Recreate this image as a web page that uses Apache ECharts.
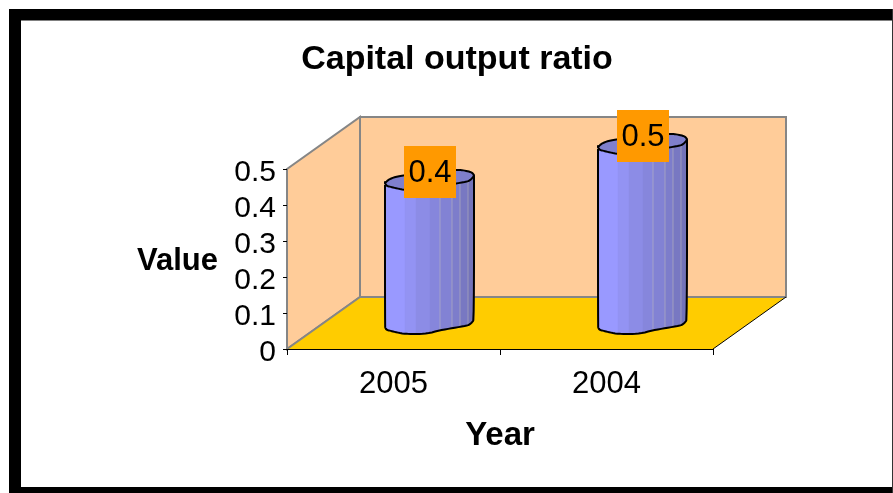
<!DOCTYPE html>
<html>
<head>
<meta charset="utf-8">
<style>html,body{margin:0;padding:0;background:#fff}#c{width:893px;height:493px}</style>
<script src="https://cdn.jsdelivr.net/npm/echarts@6/dist/echarts.min.js"></script>
</head>
<body>
<div id="c"></div>
<script>
const categories = ['2005', '2004'];
const values = [0.4, 0.5];
const yTicks = [0, 0.1, 0.2, 0.3, 0.4, 0.5];
const titleText = 'Capital output ratio';
const xName = 'Year';
const yName = 'Value';

const FONT = '"Liberation Sans", Arial, sans-serif';
const DX = 73, DY = -52, BW = 89;
const bandEdges = [0, 20, 31, 45, 55, 67, 75, 83, 89];
const bandColors = ['#9999ff', '#9393f3', '#8c8ce6', '#8686dc', '#8282d4', '#7d7dcb', '#7878c2', '#7373b9'];
const seamEdges = [55, 67, 75, 83];
const frontCurve = [[0,-3],[0.5,-0.5],[2,1],[5,1.7],[10,3],[18,4.7],[30,5],[42,4.7],[55,1.3],[68,-1],[82,-3.3],[85,-4.8],[87,-6.7],[89,-9.3]];
const backCurve = [[89,-10],[87,-12.5],[82,-14],[76,-15],[72,-15],[45,-14],[21,-10],[10,-8],[4,-5.6],[1,-3],[0,-1]];

function chaikin(pts, rounds) {
  let out = pts;
  for (let r = 0; r < rounds; r++) {
    const next = [out[0]];
    for (let i = 0; i < out.length - 1; i++) {
      const a = out[i], b = out[i+1];
      next.push([a[0]*0.75+b[0]*0.25, a[1]*0.75+b[1]*0.25], [a[0]*0.25+b[0]*0.75, a[1]*0.25+b[1]*0.75]);
    }
    next.push(out[out.length-1]);
    out = next;
  }
  return out;
}
function curveY(x) {
  for (let i = 1; i < frontCurve.length; i++) {
    const a = frontCurve[i-1], b = frontCurve[i];
    if (x <= b[0]) return a[1] + (b[1]-a[1]) * (x-a[0]) / (b[0]-a[0]);
  }
  return frontCurve[frontCurve.length-1][1];
}
function sampled(a, b) {
  const xs = [a].concat(frontCurve.map(p => p[0]).filter(x => x > a && x < b), [b]);
  return xs.map(x => [x, curveY(x)]);
}

function renderWalls(params, api) {
  const c = params.coordSys;
  const x0 = c.x, x1 = c.x + c.width, yT = c.y, yB = c.y + c.height;
  const gray = '#868686';
  return { type: 'group', children: [
    { type: 'polygon', shape: { points: [[x0,yB],[x0,yT],[x0+DX,yT+DY],[x0+DX,yB+DY]] },
      style: { fill: '#ffcc99', stroke: gray, lineWidth: 2 } },
    { type: 'polygon', shape: { points: [[x0+DX,yT+DY],[x1+DX,yT+DY],[x1+DX,yB+DY],[x0+DX,yB+DY]] },
      style: { fill: '#ffcc99', stroke: gray, lineWidth: 2 } },
    { type: 'polygon', shape: { points: [[x0,yB],[x1,yB],[x1+DX,yB+DY],[x0+DX,yB+DY]] },
      style: { fill: '#ffcc00', stroke: null } },
    { type: 'polyline', shape: { points: [[x0,yB],[x0+DX,yB+DY],[x1+DX,yB+DY]] },
      style: { fill: null, stroke: gray, lineWidth: 2 } },
    { type: 'line', shape: { x1: x1, y1: yB, x2: x1+DX, y2: yB+DY },
      style: { stroke: '#000', lineWidth: 1 } }
  ]};
}

function renderCylinder(params, api) {
  const top = api.coord([api.value(0), api.value(1)]);
  const base = api.coord([api.value(0), 0]);
  const L = top[0] - 8.5, yTop = top[1] - 20, yBot = base[1] - 20;
  const ch = [];
  bandColors.forEach((col, i) => {
    const s = sampled(bandEdges[i], bandEdges[i+1]);
    const pts = s.map(p => [L+p[0], yTop+p[1]]).concat(s.slice().reverse().map(p => [L+p[0], yBot+p[1]]));
    ch.push({ type: 'polygon', shape: { points: pts }, style: { fill: col, stroke: col, lineWidth: 0.5 } });
  });
  seamEdges.forEach(x => {
    ch.push({ type: 'line', shape: { x1: L+x, y1: yTop+curveY(x), x2: L+x, y2: yBot+curveY(x) },
      style: { stroke: 'rgba(200,195,190,0.5)', lineWidth: 1 } });
  });
  const topFront = frontCurve.map(p => [L+p[0], yTop+p[1]]);
  const topBack = backCurve.map(p => [L+p[0], yTop+p[1]]);
  const loop = topFront.concat(topBack);
  ch.push({ type: 'polygon', shape: { points: chaikin(loop.concat([loop[0]]), 2) },
    style: { fill: '#7f7fcc', stroke: '#000', lineWidth: 2, lineJoin: 'round' } });
  const body = [[L, yTop]].concat(frontCurve.map(p => [L+p[0], yBot+p[1]]), [[L+BW, yTop+curveY(BW)]]);
  ch.push({ type: 'polyline', shape: { points: chaikin(body, 2) },
    style: { fill: null, stroke: '#000', lineWidth: 2, lineJoin: 'round' } });
  const cx = top[0] + 36.5, cy = top[1] - 33;
  ch.push({ type: 'rect', shape: { x: cx-26, y: cy-26, width: 52, height: 52 }, style: { fill: '#ff9900' } });
  ch.push({ type: 'text', style: { text: String(api.value(1)), x: cx, y: cy+1, align: 'center', verticalAlign: 'middle',
    fill: '#000', font: '31px ' + FONT } });
  return { type: 'group', children: ch };
}

const chart = echarts.init(document.getElementById('c'), null, { renderer: 'canvas' });
chart.setOption({
  animation: false,
  backgroundColor: '#fff',
  textStyle: { fontFamily: FONT },
  title: { text: titleText, left: 452, top: 38, textAlign: 'center',
    textStyle: { fontFamily: FONT, fontSize: 34, fontWeight: 'bold', color: '#000' } },
  grid: { left: 287, top: 169, width: 426, height: 180, containLabel: false },
  xAxis: { type: 'category', data: categories, z: 5, name: xName, nameLocation: 'middle', nameGap: 70,
    nameTextStyle: { fontFamily: FONT, fontSize: 33, fontWeight: 'bold', color: '#000' },
    axisLine: { lineStyle: { color: '#000', width: 1 } },
    axisTick: { show: true, length: 6, lineStyle: { color: '#000', width: 1 } },
    axisLabel: { margin: 20, fontFamily: FONT, fontSize: 31, color: '#000' },
    splitLine: { show: false } },
  yAxis: { type: 'value', min: yTicks[0], max: yTicks[yTicks.length-1], interval: 0.1, z: 5,
    name: yName, nameLocation: 'middle', nameRotate: 0, nameGap: 69,
    nameTextStyle: { fontFamily: FONT, fontSize: 31, fontWeight: 'bold', color: '#000', verticalAlign: 'top', lineHeight: 4 },
    axisLine: { show: false },
    axisTick: { show: true, length: 4, lineStyle: { color: '#000', width: 1 } },
    axisLabel: { margin: 11, fontFamily: FONT, fontSize: 30, color: '#000', verticalAlign: 'top', lineHeight: 8,
      formatter: v => String(Number(v.toFixed(1))) },
    splitLine: { show: false } },
  series: [
    { type: 'custom', name: 'walls', coordinateSystem: 'cartesian2d', clip: false, silent: true, z: 1,
      data: [[0, 0]], encode: { x: 0, y: 1 }, renderItem: renderWalls },
    { type: 'custom', name: 'ratio', coordinateSystem: 'cartesian2d', clip: false, z: 3,
      data: values.map((v, i) => [i, v]), encode: { x: 0, y: 1 }, renderItem: renderCylinder }
  ],
  graphic: [
    { type: 'rect', z: 10, shape: { x: 9, y: 9, width: 884, height: 11 }, style: { fill: '#000' } },
    { type: 'rect', z: 10, shape: { x: 21, y: 20, width: 872, height: 1 }, style: { fill: '#808080' } },
    { type: 'rect', z: 10, shape: { x: 9, y: 9, width: 12, height: 484 }, style: { fill: '#000' } },
    { type: 'rect', z: 10, shape: { x: 9, y: 487, width: 884, height: 6 }, style: { fill: '#000' } },
    { type: 'rect', z: 10, shape: { x: 892, y: 9, width: 1, height: 484 }, style: { fill: '#333' } }
  ]
});
</script>
</body>
</html>
